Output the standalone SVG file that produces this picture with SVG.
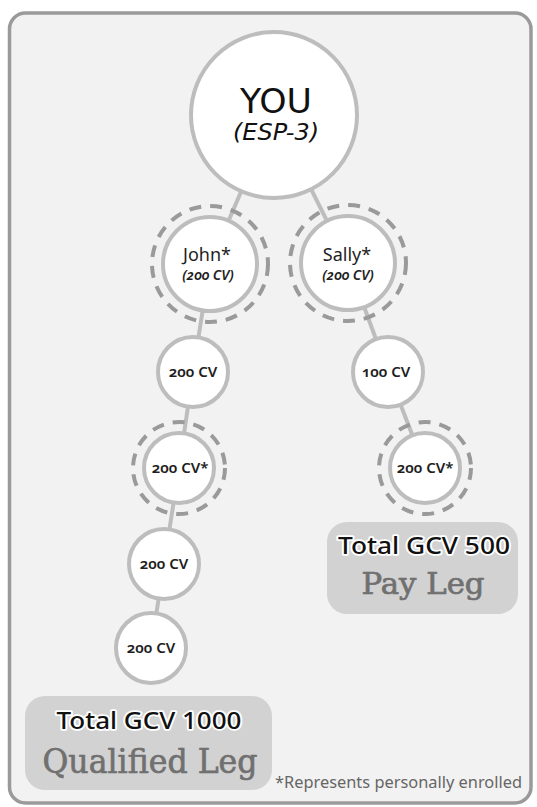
<svg xmlns="http://www.w3.org/2000/svg" width="537" height="807" viewBox="0 0 537 807">
<style>
.conn{stroke:#bdbdbd;stroke-width:4;fill:none}
.node{fill:#fff;stroke:#bdbdbd;stroke-width:4}
.ring{fill:none;stroke:#9a9a9a;stroke-width:4;stroke-dasharray:12 9}
.lbl{font-family:"Noto Sans","Open Sans",sans-serif;fill:#1e1e1e;text-anchor:middle}
.cv{font-size:15px;font-weight:600;font-variant-numeric:oldstyle-nums}
.name{font-size:18px}
.sub{font-size:14px;font-style:italic;font-weight:600;font-variant-numeric:oldstyle-nums}
.box{fill:#d2d2d2}
.tot{font-family:"Noto Sans","Open Sans",sans-serif;font-size:23px;font-weight:500;fill:#111;stroke:#fff;stroke-width:3.5;paint-order:stroke;stroke-linejoin:round;text-anchor:middle}
.leg{font-family:"DejaVu Serif","Liberation Serif",serif;fill:#707070;stroke:#707070;stroke-width:0.7;text-anchor:middle}
</style>
<rect x="9.5" y="13" width="521.5" height="790" rx="16" fill="#f2f2f2" stroke="#9a9a9a" stroke-width="3.5"/>
<g id="connectors">
<line class="conn" x1="274" y1="115" x2="210" y2="264"/>
<line class="conn" x1="274" y1="115" x2="348" y2="263"/>
<line class="conn" x1="210" y1="264" x2="193" y2="372"/>
<line class="conn" x1="348" y1="263" x2="388" y2="372"/>
<line class="conn" x1="193" y1="372" x2="179" y2="468"/>
<line class="conn" x1="388" y1="372" x2="425" y2="468"/>
<line class="conn" x1="179" y1="468" x2="164" y2="564"/>
<line class="conn" x1="164" y1="564" x2="151" y2="648"/>
</g>
<g id="you">
<circle class="node" cx="274" cy="115" r="83" stroke-width="3.5"/>
<text x="276" y="113" font-family="DejaVu Sans,sans-serif" font-size="33" fill="#111" text-anchor="middle" textLength="72" lengthAdjust="spacingAndGlyphs">YOU</text>
<text x="276" y="140" font-family="DejaVu Sans,sans-serif" font-size="23" font-style="italic" fill="#111" text-anchor="middle" textLength="86" lengthAdjust="spacingAndGlyphs">(ESP-3)</text>
</g>
<g id="john">
<circle class="node" cx="210" cy="264" r="47"/>
<circle class="ring" cx="210" cy="264" r="58"/>
<text class="lbl name" x="207" y="261">John*</text>
<text class="lbl sub" x="208" y="280">(200 CV)</text>
</g>
<g id="sally">
<circle class="node" cx="348" cy="263" r="47"/>
<circle class="ring" cx="348" cy="263" r="58"/>
<text class="lbl name" x="347" y="261">Sally*</text>
<text class="lbl sub" x="348" y="280">(200 CV)</text>
</g>
<g id="j1">
<circle class="node" cx="193" cy="372" r="35"/>
<text class="lbl cv" x="193" y="377">200 CV</text>
</g>
<g id="s1">
<circle class="node" cx="388" cy="372" r="35"/>
<text class="lbl cv" x="386" y="377">100 CV</text>
</g>
<g id="j2">
<circle class="node" cx="179" cy="468" r="35"/>
<circle class="ring" cx="179" cy="468" r="46"/>
<text class="lbl cv" x="180" y="473">200 CV*</text>
</g>
<g id="s2">
<circle class="node" cx="425" cy="468" r="35"/>
<circle class="ring" cx="425" cy="468" r="46"/>
<text class="lbl cv" x="425" y="473">200 CV*</text>
</g>
<g id="j3">
<circle class="node" cx="164" cy="564" r="35"/>
<text class="lbl cv" x="164" y="569">200 CV</text>
</g>
<g id="j4">
<circle class="node" cx="151" cy="648" r="35"/>
<text class="lbl cv" x="151" y="653">200 CV</text>
</g>
<g id="payleg">
<rect class="box" x="327" y="522" width="191" height="92" rx="20"/>
<text class="tot" x="424" y="554" textLength="172" lengthAdjust="spacingAndGlyphs">Total GCV 500</text>
<text class="leg" x="423" y="594" font-size="29" textLength="123" lengthAdjust="spacingAndGlyphs">Pay Leg</text>
</g>
<g id="qualleg">
<rect class="box" x="25" y="696" width="247" height="94" rx="20"/>
<text class="tot" x="149" y="729" textLength="185" lengthAdjust="spacingAndGlyphs">Total GCV 1000</text>
<text class="leg" x="150" y="773" font-size="33" textLength="215" lengthAdjust="spacingAndGlyphs">Qualified Leg</text>
</g>
<text x="522" y="788" font-family="Noto Sans,sans-serif" font-size="16" fill="#666" text-anchor="end" textLength="247" lengthAdjust="spacingAndGlyphs">*Represents personally enrolled</text>
</svg>
